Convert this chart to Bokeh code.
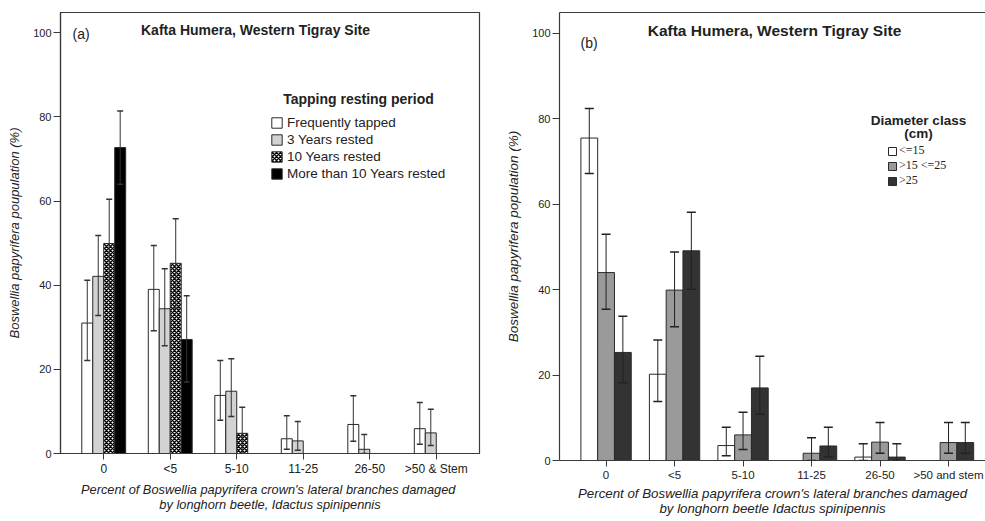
from bokeh.plotting import figure
from bokeh.models import (Range1d, FixedTicker, LinearAxis, Whisker, TeeHead,
                          ColumnDataSource, Legend, LegendItem, Label)
from bokeh.transform import dodge
from bokeh.layouts import row
from bokeh.embed import file_html
from bokeh.resources import INLINE

# ---------------- data: panel (a) ----------------
damage_a = ["0", "<5", "5-10", "11-25", "26-50", ">50 & Stem"]
freq_tapped = [31.0, 39.0, 13.8, 3.5, 6.9, 5.9]
freq_tapped_hi = [41.2, 49.4, 22.1, 9.0, 13.7, 12.1]
freq_tapped_lo = [22.1, 29.2, 7.9, 1.0, 2.9, 2.2]
rested_3 = [42.1, 34.4, 14.8, 3.0, 1.0, 4.9]
rested_3_hi = [51.8, 43.9, 22.5, 7.6, 4.5, 10.5]
rested_3_lo = [32.8, 25.6, 8.8, 0.8, 0.0, 1.9]
rested_10 = [49.9, 45.2, 4.8, 0, 0, 0]
rested_10_hi = [60.4, 55.8, 11.0, None, None, None]
rested_10_lo = [39.5, 34.6, 0.0, None, None, None]
rested_gt10 = [72.7, 27.1, 0, 0, 0, 0]
rested_gt10_hi = [81.4, 37.5, None, None, None, None]
rested_gt10_lo = [64.0, 17.0, None, None, None, None]
series_a = ["Frequently tapped", "3 Years rested", "10 Years rested",
            "More than 10 Years rested"]

# ---------------- data: panel (b) ----------------
damage_b = ["0", "<5", "5-10", "11-25", "26-50", ">50 and stem"]
d_le15 = [75.5, 20.2, 3.5, 0, 0.8, 0]
d_le15_hi = [82.4, 28.2, 7.8, None, 3.9, None]
d_le15_lo = [67.2, 13.8, 1.1, None, 0.0, None]
d_15_25 = [44.0, 39.9, 6.0, 1.7, 4.3, 4.2]
d_15_25_hi = [53.0, 48.8, 11.3, 5.3, 8.9, 8.9]
d_15_25_lo = [35.4, 31.3, 2.6, 0.0, 1.7, 1.7]
d_gt25 = [25.3, 49.1, 17.0, 3.4, 0.8, 4.2]
d_gt25_hi = [33.8, 58.1, 24.4, 7.8, 3.9, 8.9]
d_gt25_lo = [18.2, 40.1, 10.9, 0.9, 0.0, 1.7]
series_b = ["<=15", ">15 <=25", ">25"]

y_ticks = [0, 20, 40, 60, 80, 100]

FONT = "Liberation Sans"
TXT = "#222222"
LINE = "#3a3a3a"


def bar_source(vals):
    return ColumnDataSource(dict(x=list(range(len(vals))), top=vals))


def err_source(hi, lo):
    keep = [i for i in range(len(hi)) if hi[i] is not None]
    return ColumnDataSource(dict(x=keep, upper=[hi[i] for i in keep],
                                 lower=[lo[i] for i in keep]))


def style(p, cats, ylabel, xlabel, xtick_size, ylab_size, xlab_size, xstand):
    p.xgrid.visible = False
    p.ygrid.visible = False
    p.background_fill_color = "white"
    p.border_fill_color = "white"
    p.yaxis.ticker = FixedTicker(ticks=y_ticks)
    p.xaxis.ticker = FixedTicker(ticks=list(range(len(cats))))
    p.xaxis.major_label_overrides = {i: c for i, c in enumerate(cats)}
    for ax in (p.xaxis[0], p.yaxis[0]):
        ax.axis_line_color = LINE
        ax.axis_line_width = 1.2
        ax.major_tick_line_color = LINE
        ax.major_tick_in = 0
        ax.minor_tick_line_color = None
        ax.major_label_text_font = FONT
        ax.major_label_text_color = TXT
        ax.axis_label_text_font = FONT
        ax.axis_label_text_font_style = "italic"
        ax.axis_label_text_color = TXT
    p.yaxis.major_label_text_font_size = "11px"
    p.xaxis.major_label_text_font_size = xtick_size
    p.yaxis.axis_label_text_font_size = ylab_size
    p.xaxis.axis_label_text_font_size = xlab_size
    p.xaxis.axis_label_text_line_height = 1.0
    p.yaxis.major_tick_out = 7
    p.yaxis.major_label_standoff = 2
    p.yaxis.axis_label_standoff = 8
    p.xaxis.major_tick_out = 6
    p.xaxis.major_label_standoff = 2
    p.xaxis.axis_label_standoff = xstand
    p.yaxis.axis_label = ylabel
    p.xaxis.axis_label = xlabel


def add_label(p, x, y, text, size, bold=False, align="center", font=FONT):
    p.add_layout(Label(x=x, y=y, x_units="screen", y_units="screen", text=text,
                       text_align=align, text_baseline="middle",
                       text_font=font, text_font_size=size,
                       text_font_style="bold" if bold else "normal",
                       text_color=TXT))


# ================= panel (a) =================
p1 = figure(width=490, height=514, output_backend="svg", toolbar_location=None,
            x_range=Range1d(-0.65, 5.65), y_range=Range1d(0, 104.8),
            min_border_left=60, min_border_right=11, min_border_top=12,
            min_border_bottom=60)
p1.outline_line_color = LINE
p1.outline_line_width = 1.2
style(p1, damage_a, "Boswellia papyrifera poupulation (%)",
      "Percent of Boswellia papyrifera crown's lateral branches  damaged\n"
      "by longhorn beetle, Idactus spinipennis", "12px", "13px", "12.8px", 3)

w_a = 0.165
offs_a = [-1.5 * w_a, -0.5 * w_a, 0.5 * w_a, 1.5 * w_a]
vals_a = [freq_tapped, rested_3, rested_10, rested_gt10]
his_a = [freq_tapped_hi, rested_3_hi, rested_10_hi, rested_gt10_hi]
los_a = [freq_tapped_lo, rested_3_lo, rested_10_lo, rested_gt10_lo]
fills_a = [dict(fill_color="white"),
           dict(fill_color="#d2d2d2"),
           dict(fill_color="white", hatch_pattern="diagonal_cross",
                hatch_color="black", hatch_scale=4, hatch_weight=1.5),
           dict(fill_color="black")]
rends_a = []
for v, hi, lo, off, f in zip(vals_a, his_a, los_a, offs_a, fills_a):
    r = p1.vbar(x=dodge("x", off), top="top", bottom=0, width=w_a,
                source=bar_source(v), line_color="#2a2a2a", line_width=1, **f)
    rends_a.append(r)
    p1.add_layout(Whisker(source=err_source(hi, lo), base=dodge("x", off),
                          upper="upper", lower="lower", level="overlay",
                          line_color="#333333", line_width=1,
                          upper_head=TeeHead(size=6, line_color="#333333", line_width=1.5),
                          lower_head=TeeHead(size=6, line_color="#333333", line_width=1.5)))

leg_a = Legend(items=[LegendItem(label=s, renderers=[r]) for s, r in zip(series_a, rends_a)],
               location=(210, 272), margin=0, padding=0, border_line_color=None,
               background_fill_alpha=0, glyph_width=13, glyph_height=13,
               label_height=13, spacing=2, label_standoff=4,
               label_text_font=FONT, label_text_font_size="13.5px",
               label_text_color=TXT)
p1.add_layout(leg_a)
add_label(p1, 195, 424, "Kafta Humera, Western Tigray Site", "14px", bold=True)
add_label(p1, 12, 420, "(a)", "14px", align="left")
add_label(p1, 298, 355, "Tapping resting period", "14px", bold=True)

# ================= panel (b) =================
p2 = figure(width=495, height=521, output_backend="svg", toolbar_location=None,
            x_range=Range1d(-0.68, 5.54), y_range=Range1d(0, 104.9),
            min_border_left=69, min_border_right=0, min_border_top=12,
            min_border_bottom=60)
p2.outline_line_color = None
style(p2, damage_b, "Boswellia papyrifera population (%)",
      "Percent of Boswellia papyrifera crown's lateral branches damaged\n"
      "by longhorn beetle Idactus spinipennis", "11.5px", "13.5px", "13.3px", 2)
top_axis = LinearAxis(ticker=FixedTicker(ticks=[]), axis_line_color=LINE,
                      axis_line_width=1.2, major_tick_line_color=None,
                      minor_tick_line_color=None, major_label_text_font_size="0px")
p2.add_layout(top_axis, "above")

w_b = 0.245
offs_b = [-w_b, 0.0, w_b]
vals_b = [d_le15, d_15_25, d_gt25]
his_b = [d_le15_hi, d_15_25_hi, d_gt25_hi]
los_b = [d_le15_lo, d_15_25_lo, d_gt25_lo]
fills_b = ["white", "#9a9a9a", "#333333"]
rends_b = []
for v, hi, lo, off, fc in zip(vals_b, his_b, los_b, offs_b, fills_b):
    r = p2.vbar(x=dodge("x", off), top="top", bottom=0, width=w_b,
                source=bar_source(v), fill_color=fc, line_color="#2a2a2a",
                line_width=1)
    rends_b.append(r)
    p2.add_layout(Whisker(source=err_source(hi, lo), base=dodge("x", off),
                          upper="upper", lower="lower", level="overlay",
                          line_color="#222222", line_width=1,
                          upper_head=TeeHead(size=9, line_color="#222222", line_width=1.5),
                          lower_head=TeeHead(size=9, line_color="#222222", line_width=1.5)))

leg_b = Legend(items=[LegendItem(label=s, renderers=[r]) for s, r in zip(series_b, rends_b)],
               location=(328, 272), margin=0, padding=0, border_line_color=None,
               background_fill_alpha=0, glyph_width=10, glyph_height=10,
               label_height=10, spacing=-2, label_standoff=2,
               label_text_font="Liberation Serif", label_text_font_size="12px",
               label_text_line_height=1.0, label_text_color=TXT)
p2.add_layout(leg_b)
add_label(p2, 215, 430, "Kafta Humera, Western Tigray Site", "15.5px", bold=True)
add_label(p2, 21, 418, "(b)", "14px", align="left")
add_label(p2, 359, 340, "Diameter class", "13.5px", bold=True)
add_label(p2, 359, 327, "(cm)", "13.5px", bold=True)

layout = row(p1, p2)
open("out.html", "w").write(file_html(layout, INLINE))
